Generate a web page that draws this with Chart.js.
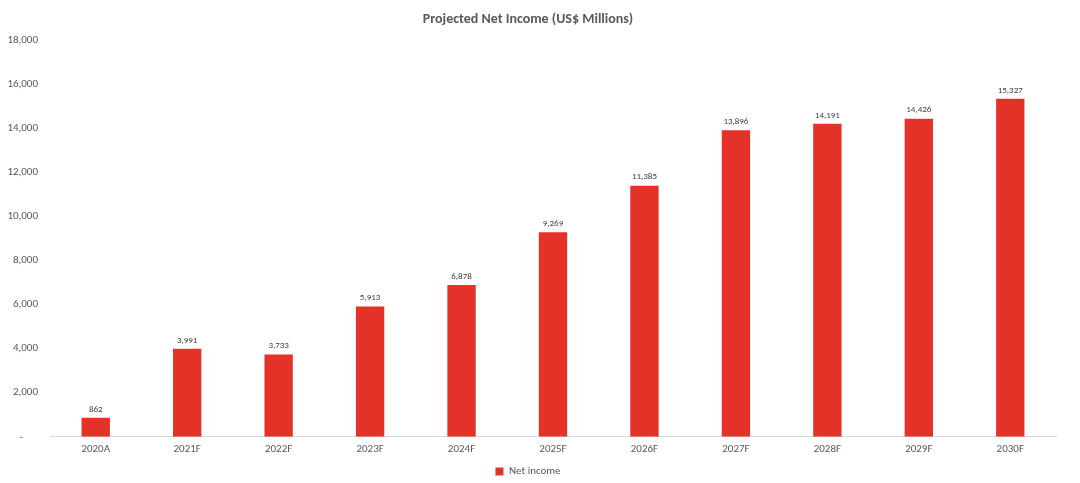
<!DOCTYPE html>
<html>
<head>
<meta charset="utf-8">
<script src="https://cdn.jsdelivr.net/npm/chart.js@4.4.1/dist/chart.umd.min.js"></script>
<style>
  html, body { margin: 0; padding: 0; background: #fff; }
  #wrap { width: 1080px; height: 483px; position: relative; }
</style>
</head>
<body>
<div id="wrap"><canvas id="c"></canvas></div>
<script>
const years = ["2020A", "2021F", "2022F", "2023F", "2024F", "2025F", "2026F", "2027F", "2028F", "2029F", "2030F"];
const netIncome = [862, 3991, 3733, 5913, 6878, 9269, 11385, 13896, 14191, 14426, 15327];
const yTicks = [0, 2000, 4000, 6000, 8000, 10000, 12000, 14000, 16000, 18000];

const gray = "#595959";
const font = "Carlito, Calibri, 'Open Sans', sans-serif";

// values written above each bar
const barLabels = {
  id: "barLabels",
  afterDatasetsDraw(chart) {
    const ctx = chart.ctx;
    const meta = chart.getDatasetMeta(0);
    ctx.save();
    ctx.font = "9px " + font;
    ctx.fillStyle = "#404040";
    ctx.textAlign = "center";
    ctx.textBaseline = "bottom";
    meta.data.forEach((bar, i) => {
      ctx.fillText(netIncome[i].toLocaleString("en-US"), bar.x, bar.y - 4);
    });
    ctx.restore();
  }
};

new Chart(document.getElementById("c").getContext("2d"), {
  type: "bar",
  data: {
    labels: years,
    datasets: [{
      label: "Net income",
      data: netIncome,
      backgroundColor: "#E53228",
      borderWidth: 0,
      barPercentage: 0.62,
      categoryPercentage: 0.5,
    }],
  },
  options: {
    responsive: true,
    maintainAspectRatio: false,
    animation: false,
    layout: { padding: { left: 0, right: 24, top: 0, bottom: -4 } },
    plugins: {
      title: {
        display: true,
        text: "Projected Net Income (US$ Millions)",
        color: gray,
        font: { family: font, size: 14, weight: "bold" },
        padding: { top: 11, bottom: 12 },
      },
      legend: {
        position: "bottom",
        labels: {
          color: gray,
          font: { family: font, size: 11 },
          boxWidth: 8,
          boxHeight: 8,
          padding: 4,
        },
      },
      tooltip: { enabled: false },
    },
    scales: {
      x: {
        grid: { display: false, drawTicks: false },
        border: { color: "#d9d9d9", width: 1 },
        ticks: { color: gray, font: { family: font, size: 11 }, padding: 6, maxRotation: 0 },
      },
      y: {
        min: 0,
        max: 18000,
        afterBuildTicks(scale) { scale.ticks = yTicks.map(v => ({ value: v })); },
        afterFit(scale) { scale.width = 50; },
        grid: { display: false, drawTicks: false },
        border: { display: false },
        ticks: {
          color: gray,
          font: { family: font, size: 11 },
          padding: 12,
          callback: v => v === 0 ? "-      " : v.toLocaleString("en-US"),
        },
      },
    },
  },
  plugins: [barLabels],
});
</script>
</body>
</html>
